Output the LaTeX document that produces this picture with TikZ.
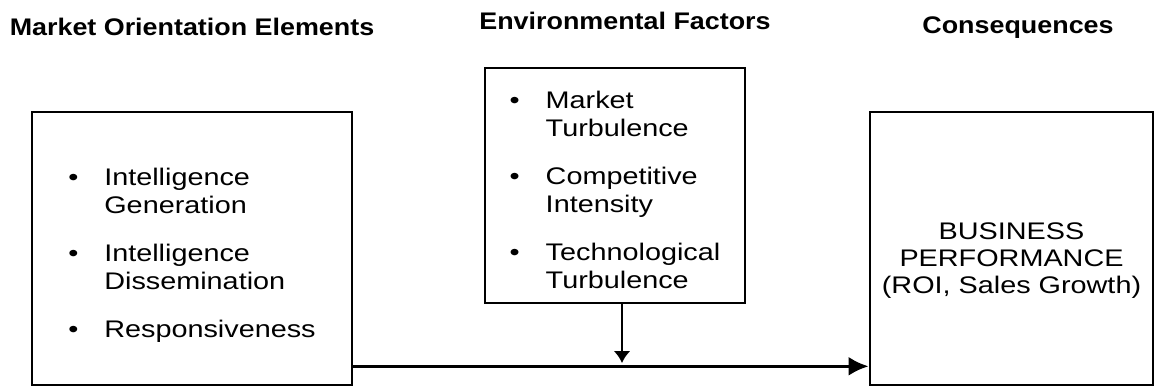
\documentclass[tikz,border=0pt]{standalone}
\usepackage{fontspec}
\setmainfont{Liberation Sans}[FakeStretch=1.2, BoldFeatures={FakeStretch=1.12}]
\usetikzlibrary{arrows.meta}

% bullet list set in two columns: dot, then the item text
% (optional argument: extra room above the first row)
\newcommand{\dotlist}[2][0pt]{\begin{tabular}{@{}p{36pt}@{}l@{}}\rule{0pt}{#1}#2\end{tabular}}
\newcommand{\itm}{\textbullet &}

\begin{document}
\begin{tikzpicture}[x=1pt, y=-1pt,
  head/.style={font=\bfseries\fontsize{24}{28}\selectfont, anchor=base},
  box/.style={draw, line width=2.6pt, font=\fontsize{24}{28}\selectfont, align=center, inner sep=0pt},
  arr/.style={-{Latex[length=20pt, width=19pt]}, line width=3.6pt},
  darr/.style={-{Latex[length=12pt, width=17pt]}, line width=2.4pt}
]
\useasboundingbox (0,0) rectangle (1157,389);

% column headings
\node[head] (hmo)  at (192, 35)   {Market Orientation Elements};
\node[head] (henv) at (625, 29)   {Environmental Factors};
\node[head] (hcon) at (1018, 33)  {Consequences};

% the three boxes
\node[box, minimum width=320pt, minimum height=273pt] (market) at (192, 248.5) {\dotlist[34pt]{%
  \itm Intelligence\\ & Generation\\[20pt]
  \itm Intelligence\\ & Dissemination\\[20pt]
  \itm Responsiveness}};
\node[box, minimum width=260pt, minimum height=235pt] (env) at (615, 185.5) {\dotlist[34pt]{%
  \itm Market\\ & Turbulence\\[20pt]
  \itm Competitive\\ & Intensity\\[20pt]
  \itm Technological\\ & Turbulence}};
\node[box, minimum width=283pt, minimum height=273pt] (perf) at (1011.5, 248.5)
  {\rule{0pt}{40pt}BUSINESS\\[-1pt]PERFORMANCE\\[-1pt](ROI, Sales Growth)};

% main path and the moderating arrow
\coordinate (join) at ([xshift=7pt]env.south |- 0,363);
\draw[arr] ([yshift=20pt]market.south east) -- ([yshift=20pt]perf.south west);
\draw[darr] ([xshift=7pt]env.south) -- (join);
\end{tikzpicture}
\end{document}
